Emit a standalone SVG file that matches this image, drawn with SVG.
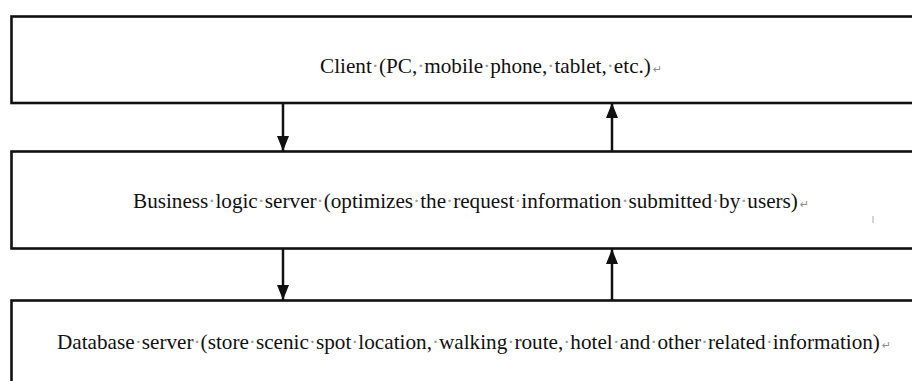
<svg xmlns="http://www.w3.org/2000/svg" width="912" height="381" viewBox="0 0 912 381">
<style>
.box{fill:#fff;stroke:#111;stroke-width:2.6}
.lbl{font-family:"Liberation Serif","Times New Roman",serif;font-size:21.5px;fill:#111}
.d{fill:#9a9a9a}
.ret{font-family:"DejaVu Sans",sans-serif;font-size:11px;fill:#8a8a8a}
.conn{stroke:#111;stroke-width:2.5;fill:none}
</style>
<defs>
<marker id="ah" markerUnits="userSpaceOnUse" markerWidth="15" markerHeight="12" refX="15" refY="6" orient="auto">
<path d="M0,0 L15,6 L0,12 z" fill="#111"/>
</marker>
</defs>
<rect width="912" height="381" fill="#fff"/>
<g id="client">
<rect class="box" x="11.5" y="16.5" width="910" height="86.5"/>
<text class="lbl" x="320" y="73" textLength="342" lengthAdjust="spacingAndGlyphs">Client<tspan class="d">·</tspan>(PC,<tspan class="d">·</tspan>mobile<tspan class="d">·</tspan>phone,<tspan class="d">·</tspan>tablet,<tspan class="d">·</tspan>etc.)<tspan class="ret" dx="2">↵</tspan></text>
</g>
<g id="business">
<rect class="box" x="11.5" y="151.5" width="910" height="97"/>
<text class="lbl" x="133" y="208" textLength="676" lengthAdjust="spacingAndGlyphs">Business<tspan class="d">·</tspan>logic<tspan class="d">·</tspan>server<tspan class="d">·</tspan>(optimizes<tspan class="d">·</tspan>the<tspan class="d">·</tspan>request<tspan class="d">·</tspan>information<tspan class="d">·</tspan>submitted<tspan class="d">·</tspan>by<tspan class="d">·</tspan>users)<tspan class="ret" dx="2">↵</tspan></text>
<line x1="873" y1="216" x2="873" y2="223" stroke="#aaa" stroke-width="1"/>
</g>
<g id="database">
<rect class="box" x="11.5" y="300.5" width="910" height="100"/>
<text class="lbl" x="57" y="349" textLength="834" lengthAdjust="spacingAndGlyphs">Database<tspan class="d">·</tspan>server<tspan class="d">·</tspan>(store<tspan class="d">·</tspan>scenic<tspan class="d">·</tspan>spot<tspan class="d">·</tspan>location,<tspan class="d">·</tspan>walking<tspan class="d">·</tspan>route,<tspan class="d">·</tspan>hotel<tspan class="d">·</tspan>and<tspan class="d">·</tspan>other<tspan class="d">·</tspan>related<tspan class="d">·</tspan>information)<tspan class="ret" dx="2">↵</tspan></text>
</g>
<g id="connectors">
<line class="conn" x1="283" y1="104" x2="283" y2="151" marker-end="url(#ah)"/>
<line class="conn" x1="612" y1="151" x2="612" y2="103" marker-end="url(#ah)"/>
<line class="conn" x1="283" y1="249" x2="283" y2="300" marker-end="url(#ah)"/>
<line class="conn" x1="612" y1="300" x2="612" y2="249" marker-end="url(#ah)"/>
</g>
</svg>
